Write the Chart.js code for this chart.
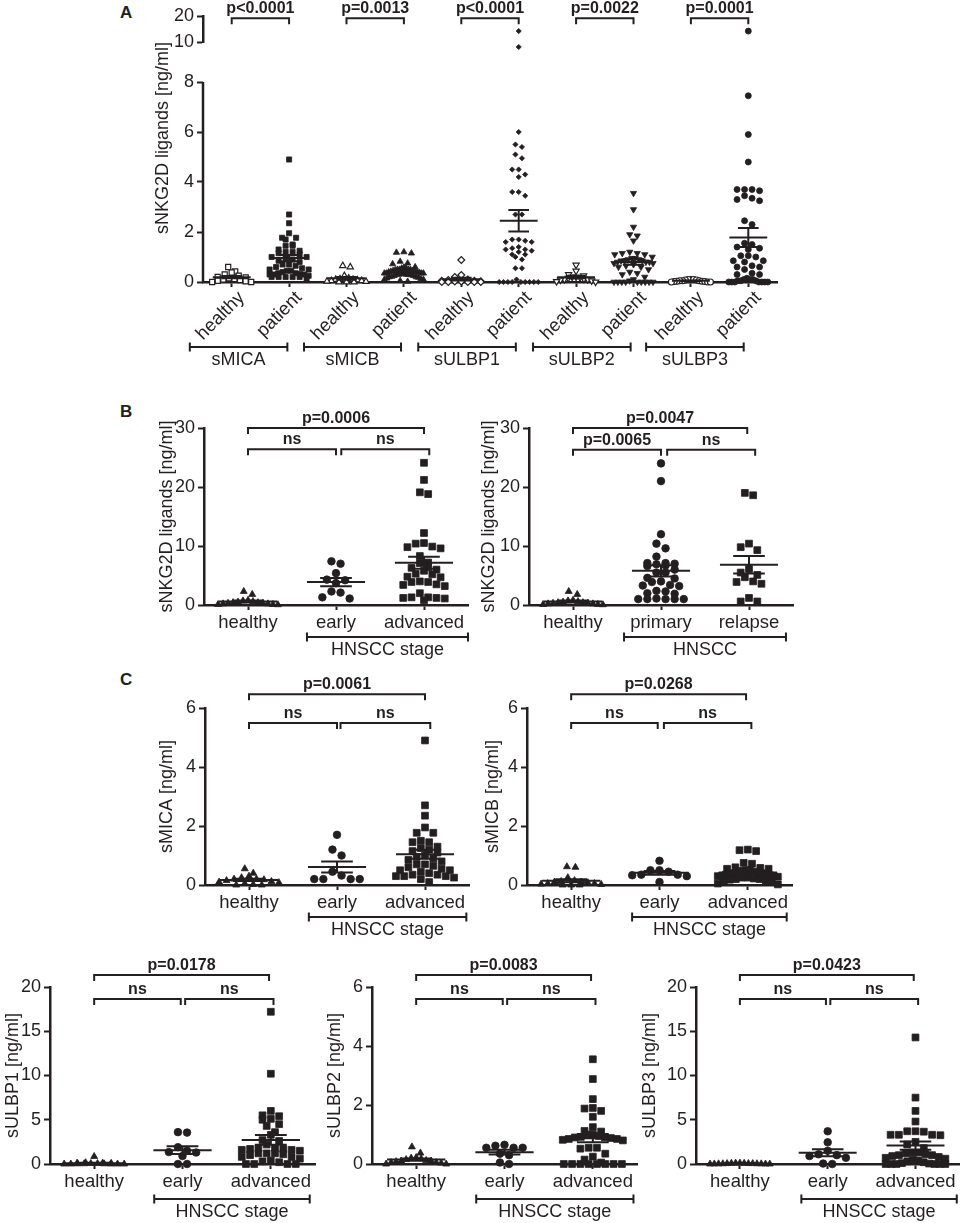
<!DOCTYPE html>
<html>
<head>
<meta charset="utf-8">
<script src="https://cdn.jsdelivr.net/npm/chart.js@4.4.0/dist/chart.umd.min.js"></script>
<style>
  body { margin: 0; background: #fff; width: 965px; height: 1223px; position: relative; overflow: hidden;
         font-family: "Liberation Sans", Arial, sans-serif; color: #231f20; }
  canvas { position: absolute; }
  .panel { position: absolute; font-weight: bold; font-size: 17px; line-height: 1; }
</style>
</head>
<body>
<div class="panel" style="left:120px;top:4px">A</div>
<div class="panel" style="left:120px;top:403px">B</div>
<div class="panel" style="left:120px;top:671px">C</div>
<script>
const INK = '#231f20';
const FONT = '"Liberation Sans", Arial, Helvetica, sans-serif';

// ---------- Panel A : healthy vs patient per ligand ----------
const aTickLabels = ['healthy', 'patient', 'healthy', 'patient', 'healthy', 'patient', 'healthy', 'patient', 'healthy', 'patient'];
const aLigands = ['sMICA', 'sMICB', 'sULBP1', 'sULBP2', 'sULBP3'];
const aPValues = ['p<0.0001', 'p=0.0013', 'p<0.0001', 'p=0.0022', 'p=0.0001'];
const aTicksLow = [0, 2, 4, 6, 8];
const aTicksHigh = [10, 20];

const aMicaHealthy = [0.6, 0.42, 0.38, 0.3, 0.25, 0.2, 0.18, 0.15, 0.12, 0.1, 0.08, 0.05, 0.03, 0, 0];
const aMicaPatient = [1.7, 1.2, 1.0, 0.45, 0.32, 0.2, 0.2, 0.2, 0.2, 4.9, 2.7, 2.35, 1.95, 1.77, 1.77, 1.5, 1.45, 1.45, 1.3, 1.25, 1.2, 1.15, 1.1, 1.0, 0.95, 0.9, 0.85, 0.8, 0.7, 0.7, 0.65, 0.6, 0.55, 0.5, 0.5, 0.45, 0.4, 0.35, 0.35, 0.3, 0.3, 0.3, 0.25, 0.2, 0.1];
const aMicbHealthy = [0.65, 0.6, 0.25, 0.15, 0.12, 0.1, 0.1, 0.08, 0.05, 0.05, 0.03, 0.02, 0, 0, 0];
const aMicbPatient = [0.82, 0.5, 0.5, 0.45, 0.35, 0.35, 0.33, 0.3, 0.1, 1.2, 1.18, 1.15, 0.75, 0.72, 0.6, 0.58, 0.55, 0.55, 0.5, 0.5, 0.48, 0.45, 0.45, 0.42, 0.4, 0.4, 0.38, 0.35, 0.35, 0.33, 0.3, 0.3, 0.3, 0.28, 0.25, 0.25, 0.22, 0.2, 0.2, 0.18, 0.15, 0.12, 0.1, 0.05, 0.02];
const aUlbp1Healthy = [0.88, 0.28, 0.2, 0.1, 0.08, 0.05, 0.05, 0.03, 0.02, 0.02, 0, 0, 0, 0, 0];
const aUlbp1Patient = [14.2, 9.4, 6.0, 5.5, 5.4, 5.1, 4.95, 4.5, 4.5, 4.3, 4.2, 3.6, 3.6, 3.45, 2.7, 2.7, 1.7, 1.7, 1.65, 1.6, 1.6, 1.4, 1.35, 1.3, 1.3, 1.25, 1.2, 1.1, 1.1, 1.0, 0.9, 0.55, 0.55, 0.1, 0, 0, 0, 0, 0, 0, 0, 0, 0];
const aUlbp2Healthy = [0.68, 0.44, 0.3, 0.25, 0.2, 0.2, 0.18, 0.15, 0.12, 0.1, 0.1, 0.08, 0.05, 0.02, 0];
const aUlbp2Patient = [3.55, 2.9, 2.2, 1.9, 1.85, 1.65, 1.2, 1.15, 1.15, 1.1, 1.1, 1.0, 0.95, 0.95, 0.9, 0.9, 0.85, 0.85, 0.85, 0.8, 0.8, 0.8, 0.75, 0.75, 0.7, 0.65, 0.6, 0.6, 0.5, 0.4, 0.35, 0.3, 0.2, 0.1, 0.05, 0, 0, 0, 0, 0, 0, 0, 0, 0];
const aUlbp3Healthy = [0.1, 0.1, 0.1, 0.08, 0.08, 0.05, 0.05, 0.05, 0.03, 0.03, 0.02, 0.02, 0, 0, 0];
const aUlbp3Patient = [14.2, 7.45, 5.9, 4.8, 3.7, 3.7, 3.7, 3.65, 3.45, 3.35, 3.3, 3.25, 2.45, 2.3, 1.55, 1.5, 1.4, 1.35, 1.3, 1.05, 1.05, 1.0, 0.85, 0.85, 0.8, 0.65, 0.6, 0.6, 0.5, 0.35, 0.3, 0.3, 0.15, 0.1, 0.1, 0.1, 0.05, 0.05, 0.05, 0, 0, 0, 0, 0, 0, 0];

// ---------- Panel B : total sNKG2D ligands ----------
const stageLabels = ['healthy', 'early', 'advanced'];
const typeLabels = ['healthy', 'primary', 'relapse'];
const bTicks = [0, 10, 20, 30];
const bHealthy = [2.3, 1.8, 0.8, 0.7, 0.6, 0.5, 0.4, 0.4, 0.3, 0.3, 0.2, 0.2, 0.1, 0.1, 0.05];
const bEarly = [7.4, 7.0, 5.4, 4.3, 4.2, 3.7, 2.3, 2.1, 1.3, 1.1];
const bAdvanced = [24.1, 21.2, 19.1, 18.8, 12.2, 10.5, 10.4, 9.9, 9.8, 9.6, 8.3, 7.2, 7.1, 6.4, 6.3, 6.0, 5.8, 5.3, 5.2, 4.8, 4.7, 4.0, 3.9, 3.9, 3.5, 3.4, 3.2, 2.0, 1.3, 1.3, 1.2, 1.2, 1.1, 0.8];
const bPrimary = [24.0, 21.0, 12.0, 10.4, 9.6, 8.2, 7.1, 7.1, 7.0, 6.9, 6.7, 6.6, 6.0, 5.5, 5.5, 4.6, 4.5, 4.0, 3.9, 3.4, 3.3, 3.2, 2.4, 2.3, 2.0, 1.9, 1.1, 1.0, 1.0, 1.0, 1.0, 1.0];
const bRelapse = [19.0, 18.6, 10.4, 9.8, 9.3, 6.1, 5.5, 5.1, 4.7, 4.0, 3.9, 3.6, 1.2, 0.6, 0.6];

// ---------- Panel C : single ligands by stage ----------
const ticks6 = [0, 2, 4, 6];
const ticks20 = [0, 5, 10, 15, 20];
const cMicaHealthy = [0.55, 0.4, 0.3, 0.25, 0.2, 0.2, 0.18, 0.15, 0.12, 0.1, 0.08, 0.05, 0.02, 0, 0];
const cMicaEarly = [1.7, 1.2, 1.0, 0.45, 0.32, 0.2, 0.2, 0.2, 0.2];
const cMicaAdvanced = [4.9, 2.7, 2.35, 1.95, 1.77, 1.77, 1.5, 1.45, 1.45, 1.3, 1.25, 1.2, 1.15, 1.1, 1.0, 0.95, 0.9, 0.85, 0.8, 0.7, 0.7, 0.65, 0.6, 0.55, 0.5, 0.5, 0.45, 0.4, 0.35, 0.35, 0.3, 0.3, 0.3, 0.25, 0.2, 0.1];
const cMicbHealthy = [0.62, 0.6, 0.25, 0.15, 0.12, 0.1, 0.1, 0.08, 0.05, 0.05, 0.03, 0.02, 0, 0, 0];
const cMicbEarly = [0.82, 0.5, 0.5, 0.45, 0.35, 0.35, 0.33, 0.3, 0.1];
const cMicbAdvanced = [1.2, 1.18, 1.15, 0.75, 0.72, 0.6, 0.58, 0.55, 0.55, 0.5, 0.5, 0.48, 0.45, 0.45, 0.42, 0.4, 0.4, 0.38, 0.35, 0.35, 0.33, 0.3, 0.3, 0.3, 0.28, 0.25, 0.25, 0.22, 0.2, 0.2, 0.18, 0.15, 0.12, 0.1, 0.05, 0.02];
const cUlbp1Healthy = [0.85, 0.15, 0.1, 0.1, 0.08, 0.05, 0.05, 0.03, 0.02, 0.02, 0, 0, 0, 0, 0];
const cUlbp1Early = [3.6, 3.55, 1.9, 1.5, 1.35, 1.3, 0.9, 0, 0];
const cUlbp1Advanced = [17.2, 10.2, 6.0, 5.5, 5.4, 5.1, 5.0, 4.5, 4.3, 3.6, 3.3, 2.7, 2.6, 2.2, 1.8, 1.8, 1.7, 1.7, 1.6, 1.6, 1.5, 1.2, 1.2, 1.2, 1.1, 1.0, 0.8, 0.8, 0.6, 0.4, 0.3, 0.2, 0, 0, 0, 0];
const cUlbp2Healthy = [0.58, 0.37, 0.22, 0.2, 0.18, 0.15, 0.12, 0.1, 0.1, 0.08, 0.05, 0.05, 0.03, 0, 0];
const cUlbp2Early = [0.65, 0.62, 0.55, 0.55, 0.55, 0.35, 0.3, 0.05, 0];
const cUlbp2Advanced = [3.55, 2.88, 2.2, 1.9, 1.88, 1.8, 1.6, 1.25, 1.12, 1.1, 1.0, 1.0, 0.95, 0.92, 0.9, 0.9, 0.88, 0.85, 0.85, 0.82, 0.8, 0.55, 0.55, 0.52, 0.35, 0.25, 0.15, 0.05, 0, 0, 0, 0, 0, 0, 0, 0];
const cUlbp3Healthy = [0.1, 0.1, 0.08, 0.08, 0.05, 0.05, 0.05, 0.03, 0.03, 0.02, 0.02, 0.01, 0, 0, 0];
const cUlbp3Early = [3.7, 2.45, 1.5, 1.1, 1.0, 0.9, 0.7, 0.05, 0];
const cUlbp3Advanced = [14.3, 7.5, 6.0, 4.8, 3.7, 3.7, 3.65, 3.3, 3.3, 3.3, 3.25, 2.5, 2.2, 1.8, 1.3, 1.3, 1.2, 1.1, 1.0, 1.0, 0.9, 0.8, 0.7, 0.6, 0.5, 0.4, 0.3, 0.2, 0.1, 0.05, 0, 0, 0, 0, 0, 0];

// marker styles
const mkA = {
  openSquare: {style: 'rect', r: 3.6, open: true, d: 5.5},
  square: {style: 'rect', r: 3.6, d: 5.5},
  openTri: {style: 'triangle', r: 3.6, open: true, d: 6},
  tri: {style: 'triangle', r: 3.6, d: 6},
  openDiamond: {style: 'rectRot', r: 3.4, open: true, d: 6.5},
  diamond: {style: 'rectRot', r: 2.6, d: 5},
  openInvTri: {style: 'triangle', r: 3.6, rot: 180, open: true, d: 6},
  invTri: {style: 'triangle', r: 3.6, rot: 180, d: 6},
  openCircle: {style: 'circle', r: 3, open: true, d: 6},
  circle: {style: 'circle', r: 3, d: 6}
};
const mkB = {
  tri: {style: 'triangle', r: 4, d: 7},
  circle: {style: 'circle', r: 3.8, d: 7.6},
  square: {style: 'rect', r: 4.8, d: 6.8}
};

// brackets, p values, group labels, broken axis line
const annotPlugin = {
  id: 'annot',
  afterDraw(chart) {
    const a = chart.$annot;
    if (!a) return;
    const ctx = chart.ctx, xs = chart.scales.x, area = chart.chartArea;
    ctx.save();
    ctx.strokeStyle = INK;
    ctx.fillStyle = INK;
    ctx.textAlign = 'center';
    ctx.textBaseline = 'alphabetic';
    if (a.axisSegment) {
      const ys = chart.scales[a.axisSegment.id];
      ctx.lineWidth = 2.5;
      ctx.beginPath();
      ctx.moveTo(area.left, ys.getPixelForValue(a.axisSegment.from) + 1);
      ctx.lineTo(area.left, ys.getPixelForValue(a.axisSegment.to));
      ctx.stroke();
    }
    ctx.lineWidth = 2;
    const ys = chart.scales[a.bracketAxis || 'y'];
    (a.brackets || []).forEach(([x1v, x2v, level, text]) => {
      const y = ys.getPixelForValue(level), x1 = xs.getPixelForValue(x1v), x2 = xs.getPixelForValue(x2v);
      ctx.beginPath();
      ctx.moveTo(x1, y + 6); ctx.lineTo(x1, y); ctx.lineTo(x2, y); ctx.lineTo(x2, y + 6);
      ctx.stroke();
      ctx.font = 'bold 16px ' + FONT;
      ctx.fillText(text, (x1 + x2) / 2, y - 5);
    });
    (a.groups || []).forEach(([x1v, x2v, text]) => {
      const y = area.bottom + a.groupOffset, x1 = xs.getPixelForValue(x1v), x2 = xs.getPixelForValue(x2v);
      ctx.beginPath();
      ctx.moveTo(x1, y); ctx.lineTo(x2, y);
      ctx.moveTo(x1, y - 4.5); ctx.lineTo(x1, y + 4.5);
      ctx.moveTo(x2, y - 4.5); ctx.lineTo(x2, y + 4.5);
      ctx.stroke();
      ctx.font = '18px ' + FONT;
      ctx.fillText(text, (x1 + x2) / 2, y + 18);
    });
    ctx.restore();
  }
};

Chart.defaults.font.family = FONT;
Chart.defaults.color = INK;
Chart.register(annotPlugin);

function meanSem(v) {
  const n = v.length;
  const m = v.reduce((s, x) => s + x, 0) / n;
  const sd = Math.sqrt(v.reduce((s, x) => s + (x - m) * (x - m), 0) / (n - 1));
  return [m, sd / Math.sqrt(n)];
}

// spread points of one column into rows (scatter dot plot layout)
function swarm(vals, c, xs, ys, d, maxHalf) {
  const items = vals.map(v => ({v, py: ys.getPixelForValue(v)})).sort((p, q) => p.py - q.py);
  const rows = [];
  items.forEach(it => {
    const row = rows[rows.length - 1];
    if (row && it.py - row[0].py < d) row.push(it); else rows.push([it]);
  });
  const cx = xs.getPixelForValue(c);
  const pts = [];
  rows.forEach(row => {
    const k = row.length;
    const step = k > 1 ? Math.min(d + 1.5, 2 * maxHalf / (k - 1)) : 0;
    const slots = row.map((_, j) => (j - (k - 1) / 2) * step).sort((p, q) => Math.abs(p) - Math.abs(q));
    row.forEach((it, j) => pts.push({x: xs.getValueForPixel(cx + slots[j]), y: it.v}));
  });
  return pts;
}

function makeChart(spec) {
  const [bl, bt, bw, bh] = spec.box;
  const [ax0, ayTop, ax1, ay0] = spec.area;
  const cv = document.createElement('canvas');
  cv.width = bw; cv.height = bh;
  Object.assign(cv.style, {left: bl + 'px', top: bt + 'px', width: bw + 'px', height: bh + 'px'});
  document.body.appendChild(cv);

  const axes = spec.axes;
  const axisOf = v => (axes.find(a => v <= a.max) || axes[axes.length - 1]).id;
  const datasets = [], swarms = [];
  spec.groups.forEach((g, gi) => {
    const c = gi + 1, m = g.marker;
    axes.forEach(a => {
      const vals = g.values.filter(v => axisOf(v) === a.id);
      if (!vals.length) return;
      swarms.push({index: datasets.length, vals, c, axis: a.id, d: m.d});
      datasets.push({
        type: 'scatter', yAxisID: a.id, data: vals.map(v => ({x: c, y: v})),
        pointStyle: m.style, pointRadius: m.r, pointRotation: m.rot || 0,
        backgroundColor: m.open ? '#fff' : INK, borderColor: INK, borderWidth: m.open ? 1.2 : 0.8,
        clip: false, order: 2
      });
    });
    const [mean, sem] = meanSem(g.values);
    const lineDs = data => ({type: 'line', yAxisID: axes[0].id, data, borderColor: INK, borderWidth: 2,
      pointRadius: 0, spanGaps: false, clip: false, order: 1});
    datasets.push(lineDs([{x: c - 0.33, y: mean}, {x: c + 0.33, y: mean}]));
    datasets.push(lineDs([
      {x: c - 0.18, y: mean + sem}, {x: c + 0.18, y: mean + sem}, {x: c, y: null},
      {x: c, y: mean + sem}, {x: c, y: mean - sem}, {x: c, y: null},
      {x: c - 0.18, y: mean - sem}, {x: c + 0.18, y: mean - sem}
    ]));
  });

  const rot = spec.rotate || 0;
  const scales = {
    x: {
      type: 'linear', min: 0.5, max: spec.labels.length + 0.5,
      afterBuildTicks: s => { s.ticks = spec.labels.map((_, i) => ({value: i + 1})); },
      afterFit: s => { s.height = bt + bh - ay0; },
      ticks: {autoSkip: false, minRotation: rot, maxRotation: rot, padding: rot ? 0 : 2,
              labelOffset: rot ? 10 : 0,
              font: {size: 18.5}, color: INK, callback: v => spec.labels[Math.round(v) - 1]},
      grid: {drawOnChartArea: false, tickLength: 5, tickWidth: 2, tickColor: INK},
      border: {width: 2.5, color: INK}
    }
  };
  axes.forEach((a, i) => {
    scales[a.id] = Object.assign({
      type: 'linear', position: 'left', min: a.min, max: a.max,
      afterBuildTicks: s => { s.ticks = a.ticks.map(v => ({value: v})); },
      afterFit: s => { s.width = ax0 - bl; },
      ticks: {autoSkip: false, font: {size: 18}, color: INK, padding: 3},
      grid: {drawOnChartArea: false, tickLength: 6, tickWidth: 2, tickColor: INK},
      border: {display: a.border !== false, width: 2.5, color: INK},
      title: i === 0
        ? {display: true, text: spec.title, align: spec.titleAlign || 'center', font: {size: 18}, color: INK,
           padding: {top: spec.titleX - bl - 10.8, bottom: 0}}
        : {display: false}
    }, axes.length > 1 ? {stack: 'y', stackWeight: a.weight} : {});
  });

  const chart = new Chart(cv, {
    type: 'scatter',
    data: {datasets},
    options: {
      responsive: false, animation: false, events: [],
      layout: {padding: {top: ayTop - bt, right: bl + bw - ax1, left: 0, bottom: 0}},
      scales,
      plugins: {legend: {display: false}, tooltip: {enabled: false}}
    }
  });
  const xs = chart.scales.x;
  const sp = xs.getPixelForValue(2) - xs.getPixelForValue(1);
  swarms.forEach(sw => {
    chart.data.datasets[sw.index].data = swarm(sw.vals, sw.c, xs, chart.scales[sw.axis], sw.d, sp * 0.34);
  });
  chart.$annot = spec.annot;
  chart.update('none');
  return chart;
}

// ---- A
makeChart({
  box: [140, 0, 665, 400], area: [203, 16, 777, 282], rotate: 45,
  labels: aTickLabels,
  axes: [
    {id: 'yLow', min: 0, max: 9.6, ticks: aTicksLow, weight: 240, border: false},
    {id: 'yHigh', min: 10, max: 20, ticks: aTicksHigh, weight: 26}
  ],
  title: 'sNKG2D ligands [ng/ml]', titleX: 163, titleAlign: 'end',
  groups: [
    {values: aMicaHealthy, marker: mkA.openSquare}, {values: aMicaPatient, marker: mkA.square},
    {values: aMicbHealthy, marker: mkA.openTri}, {values: aMicbPatient, marker: mkA.tri},
    {values: aUlbp1Healthy, marker: mkA.openDiamond}, {values: aUlbp1Patient, marker: mkA.diamond},
    {values: aUlbp2Healthy, marker: mkA.openInvTri}, {values: aUlbp2Patient, marker: mkA.invTri},
    {values: aUlbp3Healthy, marker: mkA.openCircle}, {values: aUlbp3Patient, marker: mkA.circle}
  ],
  annot: {
    axisSegment: {id: 'yLow', from: 0, to: 8},
    bracketAxis: 'yHigh',
    brackets: aPValues.map((p, i) => [2 * i + 1, 2 * i + 2, 19.1, p]),
    groupOffset: 65,
    groups: [[0.27, 1.97, aLigands[0]], [2.26, 3.95, aLigands[1]], [4.25, 5.95, aLigands[2]],
             [6.25, 7.95, aLigands[3]], [8.22, 9.92, aLigands[4]]]
  }
});

// ---- B left
makeChart({
  box: [140, 395, 345, 270], area: [204, 428, 468, 605],
  labels: stageLabels, axes: [{id: 'y', min: 0, max: 30, ticks: bTicks}],
  title: 'sNKG2D ligands [ng/ml]', titleX: 167,
  groups: [{values: bHealthy, marker: mkB.tri}, {values: bEarly, marker: mkB.circle}, {values: bAdvanced, marker: mkB.square}],
  annot: {
    brackets: [[1, 3, 30, 'p=0.0006'], [1, 2, 26.4, 'ns'], [2.06, 3.06, 26.4, 'ns']],
    groupOffset: 32, groups: [[1.67, 3.5, 'HNSCC stage']]
  }
});

// ---- B right
makeChart({
  box: [470, 395, 335, 270], area: [529, 428, 793, 605],
  labels: typeLabels, axes: [{id: 'y', min: 0, max: 30, ticks: bTicks}],
  title: 'sNKG2D ligands [ng/ml]', titleX: 489,
  groups: [{values: bHealthy, marker: mkB.tri}, {values: bPrimary, marker: mkB.circle}, {values: bRelapse, marker: mkB.square}],
  annot: {
    brackets: [[1, 2.98, 30, 'p=0.0047'], [1, 2, 26.3, 'p=0.0065'], [2.07, 3.07, 26.3, 'ns']],
    groupOffset: 32, groups: [[1.58, 3.42, 'HNSCC']]
  }
});

// ---- C top row
makeChart({
  box: [140, 665, 345, 275], area: [205, 708, 469, 885],
  labels: stageLabels, axes: [{id: 'y', min: 0, max: 6, ticks: ticks6}],
  title: 'sMICA [ng/ml]', titleX: 167,
  groups: [{values: cMicaHealthy, marker: mkB.tri}, {values: cMicaEarly, marker: mkB.circle}, {values: cMicaAdvanced, marker: mkB.square}],
  annot: {
    brackets: [[1, 3, 6.47, 'p=0.0061'], [1, 2, 5.49, 'ns'], [2.04, 3.06, 5.49, 'ns']],
    groupOffset: 32, groups: [[1.68, 3.47, 'HNSCC stage']]
  }
});
makeChart({
  box: [470, 665, 335, 275], area: [527, 708, 792, 885],
  labels: stageLabels, axes: [{id: 'y', min: 0, max: 6, ticks: ticks6}],
  title: 'sMICB [ng/ml]', titleX: 493,
  groups: [{values: cMicbHealthy, marker: mkB.tri}, {values: cMicbEarly, marker: mkB.circle}, {values: cMicbAdvanced, marker: mkB.square}],
  annot: {
    brackets: [[1, 2.98, 6.47, 'p=0.0268'], [1, 1.98, 5.49, 'ns'], [2.05, 3.04, 5.49, 'ns']],
    groupOffset: 32, groups: [[1.69, 3.44, 'HNSCC stage']]
  }
});

// ---- C bottom row
makeChart({
  box: [0, 940, 325, 283], area: [50, 987, 315, 1164],
  labels: stageLabels, axes: [{id: 'y', min: 0, max: 20, ticks: ticks20}],
  title: 'sULBP1 [ng/ml]', titleX: 13,
  groups: [{values: cUlbp1Healthy, marker: mkB.tri}, {values: cUlbp1Early, marker: mkB.circle}, {values: cUlbp1Advanced, marker: mkB.square}],
  annot: {
    brackets: [[1, 2.98, 21.36, 'p=0.0178'], [1, 1.98, 18.64, 'ns'], [2.03, 3.03, 18.64, 'ns']],
    groupOffset: 35, groups: [[1.68, 3.44, 'HNSCC stage']]
  }
});
makeChart({
  box: [322, 940, 323, 283], area: [372, 987, 637, 1164],
  labels: stageLabels, axes: [{id: 'y', min: 0, max: 6, ticks: ticks6}],
  title: 'sULBP2 [ng/ml]', titleX: 335,
  groups: [{values: cUlbp2Healthy, marker: mkB.tri}, {values: cUlbp2Early, marker: mkB.circle}, {values: cUlbp2Advanced, marker: mkB.square}],
  annot: {
    brackets: [[1, 2.98, 6.41, 'p=0.0083'], [1, 1.98, 5.59, 'ns'], [2.03, 3.03, 5.59, 'ns']],
    groupOffset: 35, groups: [[1.68, 3.46, 'HNSCC stage']]
  }
});
makeChart({
  box: [637, 940, 328, 283], area: [696, 987, 960, 1164],
  labels: stageLabels, axes: [{id: 'y', min: 0, max: 20, ticks: ticks20}],
  title: 'sULBP3 [ng/ml]', titleX: 650,
  groups: [{values: cUlbp3Healthy, marker: mkB.tri}, {values: cUlbp3Early, marker: mkB.circle}, {values: cUlbp3Advanced, marker: mkB.square}],
  annot: {
    brackets: [[1, 2.98, 21.36, 'p=0.0423'], [1, 1.98, 18.64, 'ns'], [2.03, 3.03, 18.64, 'ns']],
    groupOffset: 35, groups: [[1.7, 3.47, 'HNSCC stage']]
  }
});
</script>
</body>
</html>
